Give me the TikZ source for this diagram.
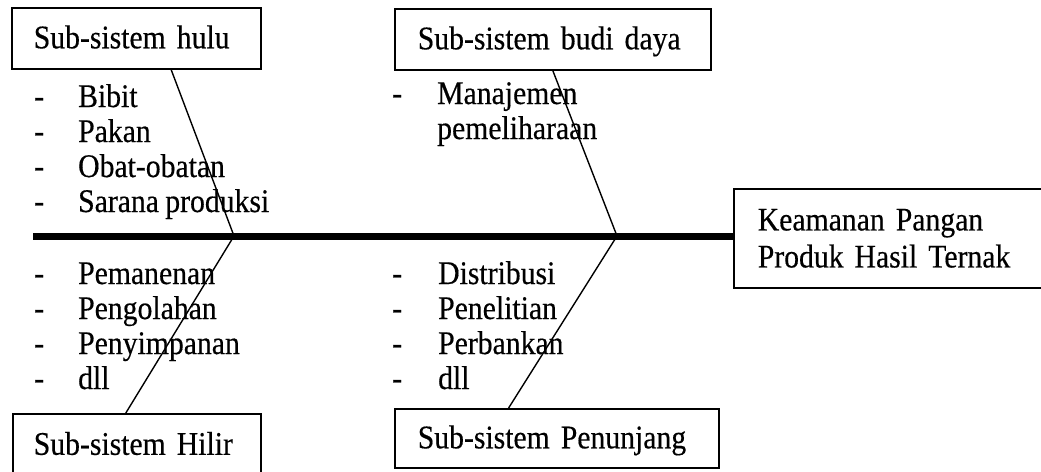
\documentclass[tikz,border=0pt]{standalone}
\usepackage{fontspec}
\setmainfont{Liberation Serif}[FakeStretch=0.9,FakeBold=0.4,WordSpace=0.85]
\usetikzlibrary{calc}
\begin{document}
\begin{tikzpicture}[x=1pt,y=-1pt,
  box/.style={draw=black, line width=1.6pt, anchor=north west, inner ysep=0pt,
    align=left, font=\fontsize{33}{37}\selectfont},
  onel/.style={text height=24pt, text depth=4pt},
  lbl/.style={anchor=base west, inner sep=0pt, font=\fontsize{33}{35}\selectfont},
  bone/.style={line width=1.4pt},
  spine/.style={line width=7pt}]
\useasboundingbox (0,0) rectangle (1041,471);
% boxes
\node[box, onel, inner xsep=22pt, text width=205pt, minimum height=61pt] (hulu) at (11,7) {Sub-sistem hulu};
\node[box, onel, inner xsep=23pt, text width=270pt, minimum height=61pt] (budi) at (394,8) {Sub-sistem budi daya};
\node[box, onel, inner xsep=21pt, text width=206pt, minimum height=62pt] (hilir) at (12,413) {Sub-sistem Hilir};
\node[box, onel, inner xsep=23pt, text width=278pt, minimum height=59pt] (pen) at (394,408) {Sub-sistem Penunjang};
\node[box, inner xsep=24pt, text width=268pt, minimum height=99pt] (keam) at (733,188) {Keamanan Pangan\\Produk Hasil Ternak};
% lists
\node[lbl] (lhulu) at (34,107) {\begin{tabular}[t]{@{}p{44pt}@{}l@{}}-&Bibit\\-&Pakan\\-&Obat-obatan\\-&Sarana produksi\end{tabular}};
\node[lbl] (lbudi) at (392,104) {\begin{tabular}[t]{@{}p{45pt}@{}l@{}}-&Manajemen\\&pemeliharaan\end{tabular}};
\node[lbl] (lhilir) at (34,284) {\begin{tabular}[t]{@{}p{44pt}@{}l@{}}-&Pemanenan\\-&Pengolahan\\-&Penyimpanan\\-&dll\end{tabular}};
\node[lbl] (lpen) at (392,284) {\begin{tabular}[t]{@{}p{46pt}@{}l@{}}-&Distribusi\\-&Penelitian\\-&Perbankan\\-&dll\end{tabular}};
% spine and bones
\coordinate (s0) at (33,236);
\coordinate (j1) at (234,236);
\coordinate (j2) at (617,236);
\draw[spine] (s0) -- (s0 -| keam.west);
\draw[bone] ($(hulu.south west)!0.639!(hulu.south east)$) -- (j1);
\draw[bone] (j1) -- ($(hilir.north west)!0.456!(hilir.north east)$);
\draw[bone] (budi.south) -- (j2);
\draw[bone] (j2) -- ($(pen.north west)!0.352!(pen.north east)$);
\end{tikzpicture}
\end{document}
